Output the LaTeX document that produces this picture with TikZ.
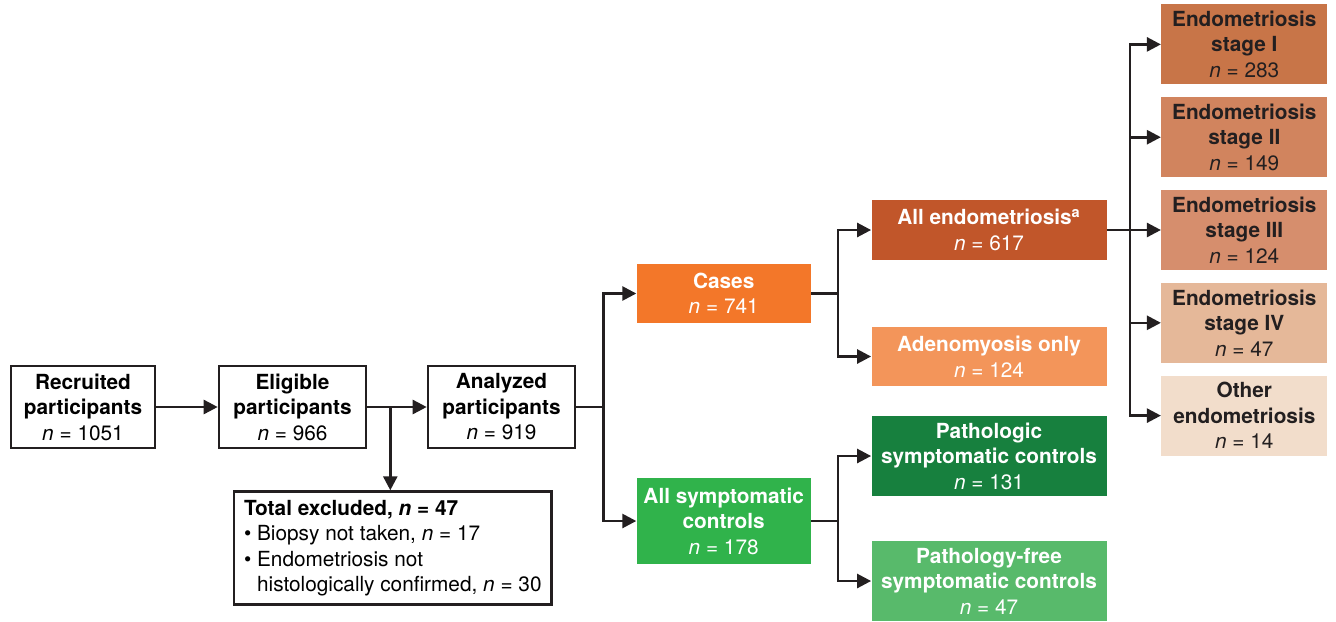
\documentclass[tikz,border=0pt]{standalone}
\usepackage{fontspec}
\setmainfont{TeX Gyre Heros}
\usetikzlibrary{arrows.meta,positioning}

\definecolor{casesorange}{HTML}{F37729}
\definecolor{endodark}{HTML}{C1562A}
\definecolor{adenolight}{HTML}{F3955A}
\definecolor{stageone}{HTML}{C87548}
\definecolor{stagetwo}{HTML}{D1845E}
\definecolor{stagethree}{HTML}{D68E6D}
\definecolor{stagefour}{HTML}{E5B899}
\definecolor{stageother}{HTML}{F2DDCB}
\definecolor{ctrlgreen}{HTML}{30B34B}
\definecolor{pathogreen}{HTML}{17803E}
\definecolor{freegreen}{HTML}{58BA6B}
\definecolor{inkgray}{HTML}{231F20}

\newcommand{\nval}[1]{{\normalfont\textit{n} = #1}}

\begin{document}
\begin{tikzpicture}[
  font=\fontsize{10.4}{12.75}\selectfont,
  box/.style={draw=inkgray,line width=1.3pt,minimum width=72pt,minimum height=41pt,
    align=center,inner sep=1pt,font=\fontsize{10.4}{12.75}\selectfont\bfseries},
  group/.style={fill=#1,text=white,draw=none,minimum width=87pt,align=center,
    inner sep=1pt,font=\fontsize{10.4}{12.75}\selectfont\bfseries},
  subgroup/.style={group=#1,minimum width=117.5pt},
  stagebox/.style={fill=#1,text=inkgray,draw=none,minimum width=83pt,minimum height=40pt,
    align=center,inner sep=1pt,font=\fontsize{10.4}{12.75}\selectfont\bfseries},
  link/.style={line width=1.3pt,draw=inkgray},
  flow/.style={link,-{Triangle[length=7pt,width=7pt]}}
]
  \useasboundingbox (0,0) rectangle (668pt,-310.5pt);

  % main line
  \node[box] (recruited) at (41.5pt,-203.5pt) {Recruited\\participants\\\nval{1051}};
  \node[box,minimum width=73.5pt,right=30.7pt of recruited] (eligible) {Eligible\\participants\\\nval{966}};
  \node[box,minimum width=73.5pt,right=29.7pt of eligible] (analyzed) {Analyzed\\participants\\\nval{919}};
  \node[draw=inkgray,line width=1.3pt,inner xsep=5pt,inner ysep=4pt,
    minimum height=56.5pt,align=left,below right=20.5pt and 7.5pt of eligible.south west] (excluded)
    {\textbf{Total excluded, \textit{n} = 47}\\
     \textbullet\ Biopsy not taken, \textit{n} = 17\\
     \textbullet\ Endometriosis not\\
     \hphantom{\textbullet\ }histologically confirmed, \textit{n} = 30};

  % groups
  \node[group=casesorange,minimum height=29.5pt,right=30pt of analyzed,yshift=56.75pt] (cases)
    {Cases\\\nval{741}};
  \node[group=ctrlgreen,minimum height=43pt,right=30pt of analyzed,yshift=-57pt] (controls)
    {All symptomatic\\controls\\\nval{178}};

  \node[subgroup=endodark,minimum height=30pt,right=30pt of cases,yshift=31.75pt] (allendo)
    {All endometriosis\textsuperscript{a}\\\nval{617}};
  \node[subgroup=adenolight,minimum height=29.5pt,right=30pt of cases,yshift=-31.5pt] (adeno)
    {Adenomyosis only\\\nval{124}};
  \node[subgroup=pathogreen,minimum height=40pt,right=30pt of controls,yshift=32.5pt] (patho)
    {Pathologic\\symptomatic controls\\\nval{131}};
  \node[subgroup=freegreen,minimum height=40pt,right=30pt of controls,yshift=-30pt] (pathfree)
    {Pathology-free\\symptomatic controls\\\nval{47}};

  % stages
  \node[stagebox=stagethree,right=27pt of allendo] (stage3) {Endometriosis\\stage III\\\nval{124}};
  \node[stagebox=stagetwo,above=6pt of stage3] (stage2) {Endometriosis\\stage II\\\nval{149}};
  \node[stagebox=stageone,above=6pt of stage2] (stage1) {Endometriosis\\stage I\\\nval{283}};
  \node[stagebox=stagefour,below=6pt of stage3] (stage4) {Endometriosis\\stage IV\\\nval{47}};
  \node[stagebox=stageother,below=6pt of stage4] (stageoth) {Other\\endometriosis\\\nval{14}};

  % connectors
  \coordinate[right=11.5pt of eligible.east] (exclsplit);
  \coordinate[right=13.5pt of analyzed.east] (groupsplit);
  \coordinate[right=13.5pt of cases.east] (casesplit);
  \coordinate[right=13.5pt of controls.east] (ctrlsplit);
  \coordinate[right=11.5pt of allendo.east] (endosplit);

  \draw[flow] (recruited) -- (eligible);
  \draw[flow] (eligible) -- (analyzed);
  \draw[flow] (exclsplit) -- (exclsplit |- excluded.north);

  \draw[link] (analyzed) -- (groupsplit);
  \draw[flow] (groupsplit) |- (cases);
  \draw[flow] (groupsplit) |- (controls);

  \draw[link] (cases) -- (casesplit);
  \draw[flow] (casesplit) |- (allendo);
  \draw[flow] (casesplit) |- (adeno);

  \draw[link] (controls) -- (ctrlsplit);
  \draw[flow] (ctrlsplit) |- (patho);
  \draw[flow] (ctrlsplit) |- (pathfree);

  \draw[link] (allendo) -- (endosplit);
  \foreach \s in {stage1,stage2,stage3,stage4,stageoth}
    \draw[flow] (endosplit) |- (\s);
\end{tikzpicture}
\end{document}
